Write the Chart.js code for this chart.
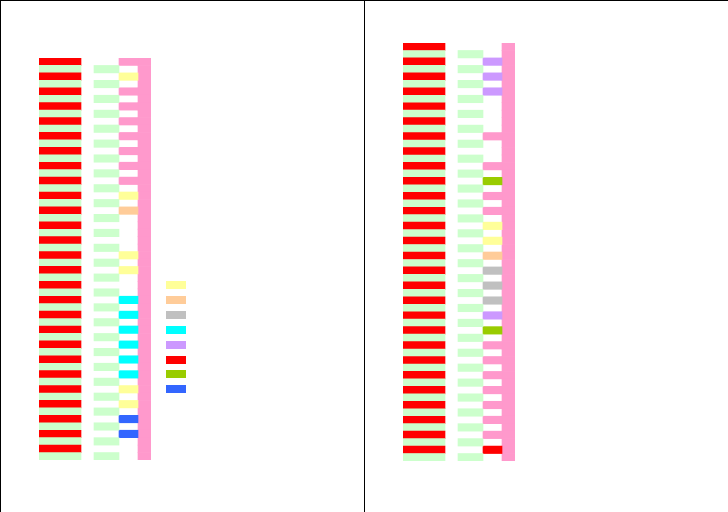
<!DOCTYPE html>
<html>
<head>
<meta charset="utf-8">
<script src="https://cdn.jsdelivr.net/npm/chart.js"></script>
<style>
  body { margin: 0; background: #fff; }
  #page { position: relative; width: 728px; height: 512px; overflow: hidden; background: #fff; }
  .panel { position: absolute; top: 0; width: 364px; height: 512px; box-sizing: border-box; border-top: 1px solid #000; border-left: 1px solid #000; }
  canvas { position: absolute; top: 0; }
  .swatch { position: absolute; left: 166px; width: 20px; height: 8px; }
</style>
</head>
<body>
<div id="page">
  <div class="panel" style="left:0"></div>
  <div class="panel" style="left:364px"></div>
  <canvas id="leftChart" width="364" height="512" style="left:0"></canvas>
  <canvas id="rightChart" width="364" height="512" style="left:364px"></canvas>
  <div id="legend"></div>
</div>
<script>
// type of the third column, one entry per red/green pair of rows
const leftTypes = [
  "P", "A", "P", "P", "P", "P", "P", "P", "P", "A",
  "B", null, null, "A", "A", null, "D", "D", "D", "D",
  "D", "D", "A", "A", "H", "H", null,
];
const rightTypes = [
  null, "E", "E", "E", null, null, "P", null, "P", "G",
  "P", "P", "A", "A", "B", "C", "C", "C", "E", "G",
  "P", "P", "P", "P", "P", "P", "P", "F",
];
const legendTypes = ["A", "B", "C", "D", "E", "F", "G", "H"];

// segment values of each row, left to right
const segA = 42;
const segGap = 13;
const segB = 25;
const segC = 19;
const segD = 13;

const colors = {
  red: "#ff0000",
  green: "#ccffcc",
  P: "#ff99cc",
  A: "#ffff99",
  B: "#ffcc99",
  C: "#c0c0c0",
  D: "#00ffff",
  E: "#cc99ff",
  F: "#ff0000",
  G: "#99cc00",
  H: "#3366ff",
};
const none = "rgba(0,0,0,0)";

function buildChart(id, types, padding) {
  const labels = [];
  types.forEach((t, i) => labels.push(`${i + 1}a`, `${i + 1}b`));
  const perRow = (fn) => labels.map((_, i) => fn(i % 2 === 0, types[Math.floor(i / 2)]));

  const datasets = [
    { label: "A", data: perRow(() => segA), backgroundColor: perRow((red) => (red ? colors.red : colors.green)) },
    { label: "gap", data: perRow(() => segGap), backgroundColor: none },
    { label: "B", data: perRow(() => segB), backgroundColor: perRow((red) => (red ? none : colors.green)) },
    { label: "C", data: perRow(() => segC), backgroundColor: perRow((red, t) => (red && t ? colors[t] : none)) },
    { label: "D", data: perRow(() => segD), backgroundColor: colors.P },
  ];

  return new Chart(document.getElementById(id), {
    type: "bar",
    data: { labels: labels, datasets: datasets },
    options: {
      indexAxis: "y",
      responsive: false,
      animation: false,
      devicePixelRatio: 1,
      layout: { padding: padding },
      datasets: {
        bar: { categoryPercentage: 1, barPercentage: 1, borderWidth: 0 },
      },
      plugins: {
        legend: { display: false },
        tooltip: { enabled: false },
      },
      scales: {
        x: { display: false, stacked: true, min: 0, max: segA + segGap + segB + segC + segD },
        y: { display: false, stacked: true },
      },
    },
  });
}

buildChart("leftChart", leftTypes, { left: 39, right: 213, top: 58, bottom: 52 });
buildChart("rightChart", rightTypes, { left: 39, right: 213, top: 43, bottom: 51 });

// legend swatches (labels are not visible in the reference)
const legend = document.getElementById("legend");
legendTypes.forEach((t, i) => {
  const box = document.createElement("div");
  box.className = "swatch";
  box.style.top = 281 + i * 14.9 + "px";
  box.style.background = colors[t];
  box.title = t;
  legend.appendChild(box);
});
</script>
</body>
</html>
